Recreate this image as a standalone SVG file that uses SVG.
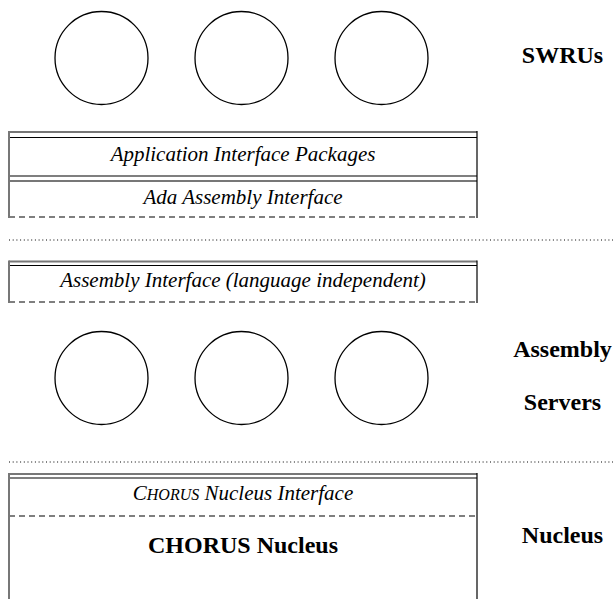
<svg xmlns="http://www.w3.org/2000/svg" width="613" height="599" viewBox="0 0 613 599">
<style>
.c{fill:none;stroke:#000;stroke-width:1.3}
.k{stroke:#000;stroke-width:1.2;fill:none}
.g{stroke:#777;stroke-width:2;fill:none}
.d{stroke:#000;stroke-width:1.2;stroke-dasharray:6 4;fill:none}
.dot{stroke:#000;stroke-width:1;stroke-dasharray:1 2.7;fill:none}
.it{font-family:"Liberation Serif",serif;font-style:italic;font-size:21px;text-anchor:middle;fill:#000}
.b{font-family:"Liberation Serif",serif;font-weight:bold;font-size:24px;text-anchor:middle;fill:#000}
</style>
<rect width="613" height="599" fill="#fff"/>
<g id="swru1"><circle class="c" cx="101.5" cy="58" r="46.5"/></g>
<g id="swru2"><circle class="c" cx="241.5" cy="58" r="46.5"/></g>
<g id="swru3"><circle class="c" cx="381.5" cy="58" r="46.5"/></g>
<g id="label-swrus"><text class="b" x="562.5" y="63">SWRUs</text></g>
<g id="app-interface">
<line class="g" x1="9" y1="132" x2="477" y2="132"/>
<line class="k" x1="9" y1="137.5" x2="477" y2="137.5"/>
<line class="k" x1="9" y1="176" x2="477" y2="176"/>
<line class="g" x1="9" y1="181" x2="477" y2="181"/>
<line class="d" x1="9" y1="217" x2="477" y2="217"/>
<line class="g" x1="9" y1="131" x2="9" y2="218"/>
<line class="k" x1="477" y1="131" x2="477" y2="218"/>
<text class="it" x="243" y="161">Application Interface Packages</text>
<text class="it" x="243" y="204">Ada Assembly Interface</text>
</g>
<line class="dot" x1="9" y1="240" x2="613" y2="240"/>
<g id="assembly-interface">
<line class="g" x1="9" y1="261.5" x2="477" y2="261.5"/>
<line class="k" x1="9" y1="265.5" x2="477" y2="265.5"/>
<line class="d" x1="9" y1="302" x2="477" y2="302"/>
<line class="g" x1="9" y1="260.5" x2="9" y2="303"/>
<line class="k" x1="477" y1="260.5" x2="477" y2="303"/>
<text class="it" x="243" y="287">Assembly Interface (language independent)</text>
</g>
<g id="server1"><circle class="c" cx="101.5" cy="378" r="46.5"/></g>
<g id="server2"><circle class="c" cx="241.5" cy="378" r="46.5"/></g>
<g id="server3"><circle class="c" cx="381.5" cy="378" r="46.5"/></g>
<g id="label-servers"><text class="b" x="562.5" y="357">Assembly</text><text class="b" x="562.5" y="410">Servers</text></g>
<line class="dot" x1="9" y1="462" x2="613" y2="462"/>
<g id="nucleus">
<line class="g" x1="9" y1="474" x2="477" y2="474"/>
<line class="k" x1="9" y1="478" x2="477" y2="478"/>
<line class="d" x1="9" y1="516" x2="477" y2="516"/>
<line class="g" x1="9" y1="473" x2="9" y2="599"/>
<line class="k" x1="477" y1="473" x2="477" y2="599"/>
<text class="it" x="243" y="500">C<tspan font-size="16px">HORUS</tspan> Nucleus Interface</text>
<text class="b" x="243" y="553" font-size="23px">CHORUS Nucleus</text>
</g>
<g id="label-nucleus"><text class="b" x="562.5" y="543">Nucleus</text></g>
</svg>
